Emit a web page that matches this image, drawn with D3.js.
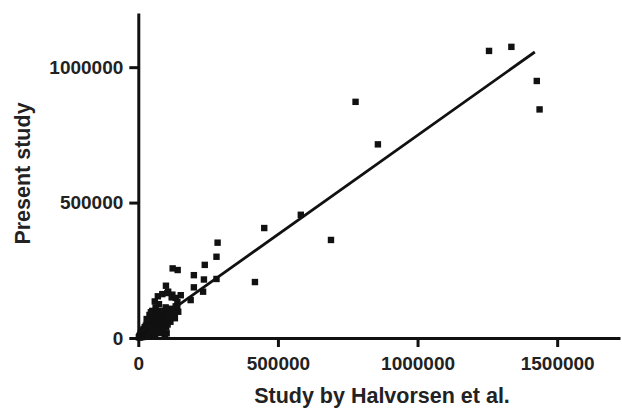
<!DOCTYPE html>
<html>
<head>
<meta charset="utf-8">
<script src="https://cdn.jsdelivr.net/npm/d3@7"></script>
<style>
  body { margin: 0; background: #fff; }
  svg text { font-family: "Liberation Sans", Arial, Helvetica, sans-serif; font-weight: bold; fill: #222; }
</style>
</head>
<body>
<div id="chart"></div>
<script>
// Halvorsen et al. (x) vs present study (y)
const outlierPoints = [
  [1256000, 1060000], [1336000, 1075000], [1427000, 949000], [1437000, 844000],
  [778000, 872000], [858000, 715000], [451000, 406000], [582000, 455000],
  [690000, 362000], [417700, 206600], [284000, 352000], [280000, 300000],
  [238000, 270000], [123000, 257000], [141000, 251000], [199000, 232000],
  [235000, 216000], [280000, 218000], [199000, 187000], [232000, 171000],
  [187500, 140000], [152000, 158000], [99000, 193000], [107000, 171000],
  [119500, 150000], [143000, 97000], [131000, 73000], [139600, 118000],
  [101600, 17300]
];

const ringPoints = [
  [70000, 154000], [86000, 162000], [104000, 166000], [122000, 160000],
  [134000, 148000], [140000, 133000], [134000, 117000], [116000, 108000],
  [98000, 113000], [74000, 125000], [59000, 135000], [62000, 113000]
];

const clusterPoints = [
  [2000, 3000], [4000, 8000], [5000, 2000], [7000, 12000], [8000, 5000], [9000, 18000],
  [10000, 9000], [11000, 3000], [12000, 14000], [13000, 22000], [14000, 7000], [15000, 28000],
  [16000, 11000], [17000, 18000], [18000, 4000], [19000, 33000], [20000, 14000], [21000, 24000],
  [22000, 8000], [23000, 40000], [24000, 19000], [25000, 30000], [26000, 12000], [27000, 46000],
  [28000, 22000], [29000, 36000], [30000, 16000], [31000, 52000], [32000, 27000], [33000, 42000],
  [34000, 10000], [35000, 58000], [36000, 31000], [37000, 48000], [38000, 20000], [39000, 64000],
  [40000, 36000], [41000, 54000], [42000, 25000], [43000, 70000], [44000, 42000], [45000, 60000],
  [46000, 30000], [47000, 76000], [48000, 46000], [49000, 66000], [50000, 34000], [52000, 82000],
  [53000, 52000], [54000, 40000], [55000, 88000], [56000, 58000], [58000, 45000], [59000, 94000],
  [60000, 64000], [62000, 50000], [63000, 100000], [64000, 70000], [66000, 55000], [67000, 80000],
  [68000, 62000], [70000, 88000], [72000, 60000], [73000, 75000], [75000, 95000], [76000, 68000],
  [78000, 84000], [80000, 72000], [82000, 100000], [84000, 64000], [86000, 90000], [88000, 78000],
  [90000, 70000], [92000, 96000], [95000, 84000], [98000, 76000], [100000, 92000], [104000, 86000],
  [108000, 98000], [112000, 90000], [116000, 82000], [120000, 102000], [125000, 95000],
  [60000, 20000], [70000, 32000], [80000, 45000], [90000, 55000], [100000, 60000],
  [95000, 8000], [85000, 25000], [100000, 40000], [115000, 60000],
  [50000, 15000], [65000, 25000], [75000, 40000], [85000, 48000], [95000, 50000],
  [105000, 65000], [110000, 75000], [120000, 80000], [130000, 90000], [55000, 28000],
  [45000, 18000], [35000, 5000], [60000, 10000], [75000, 18000], [90000, 35000],
  [105000, 50000], [30000, 70000], [40000, 85000], [50000, 100000], [45000, 95000]
];

// linear fit drawn across the data
const fitX = [0, 1420000];
const fitY = [16000, 1056000];

const xTicks = [0, 500000, 1000000, 1500000];
const yTicks = [0, 500000, 1000000];

const width = 622, height = 408;

const svg = d3.select('#chart').append('svg')
  .attr('width', width)
  .attr('height', height);

const x = d3.scaleLinear().domain([0, 1725000]).range([138.3, 620]);
const y = d3.scaleLinear().domain([0, 1200000]).range([338, 13]);

const allPoints = outlierPoints.concat(ringPoints, clusterPoints);

// axes
const xAxis = svg.append('g')
  .attr('transform', `translate(0,${y(0)})`)
  .call(d3.axisBottom(x).tickValues(xTicks).tickFormat(d3.format('d')).tickSize(9).tickPadding(10).tickSizeOuter(0));

const yAxis = svg.append('g')
  .attr('transform', `translate(${x(0)},0)`)
  .call(d3.axisLeft(y).tickValues(yTicks).tickFormat(d3.format('d')).tickSize(9).tickPadding(6).tickSizeOuter(0));

[xAxis, yAxis].forEach(a => {
  a.select('.domain').attr('stroke', '#111').attr('stroke-width', 3);
  a.selectAll('.tick line').attr('stroke', '#111').attr('stroke-width', 3);
  a.selectAll('.tick text').attr('font-size', 19).attr('fill', '#222');
});

// points
svg.append('g')
  .selectAll('rect')
  .data(allPoints)
  .enter()
  .append('rect')
  .attr('x', d => x(d[0]) - 3.2)
  .attr('y', d => y(d[1]) - 3.2)
  .attr('width', 6.4)
  .attr('height', 6.4)
  .attr('fill', '#111');

// fit line
svg.append('line')
  .attr('x1', x(fitX[0]))
  .attr('y1', y(fitY[0]))
  .attr('x2', x(fitX[1]))
  .attr('y2', y(fitY[1]))
  .attr('stroke', '#111')
  .attr('stroke-width', 2.8);

// axis titles
svg.append('text')
  .attr('x', 382)
  .attr('y', 403)
  .attr('text-anchor', 'middle')
  .attr('font-size', 21.5)
  .text('Study by Halvorsen et al.');

svg.append('text')
  .attr('transform', 'translate(29.5,173.5) rotate(-90)')
  .attr('text-anchor', 'middle')
  .attr('font-size', 21.5)
  .text('Present study');
</script>
</body>
</html>
